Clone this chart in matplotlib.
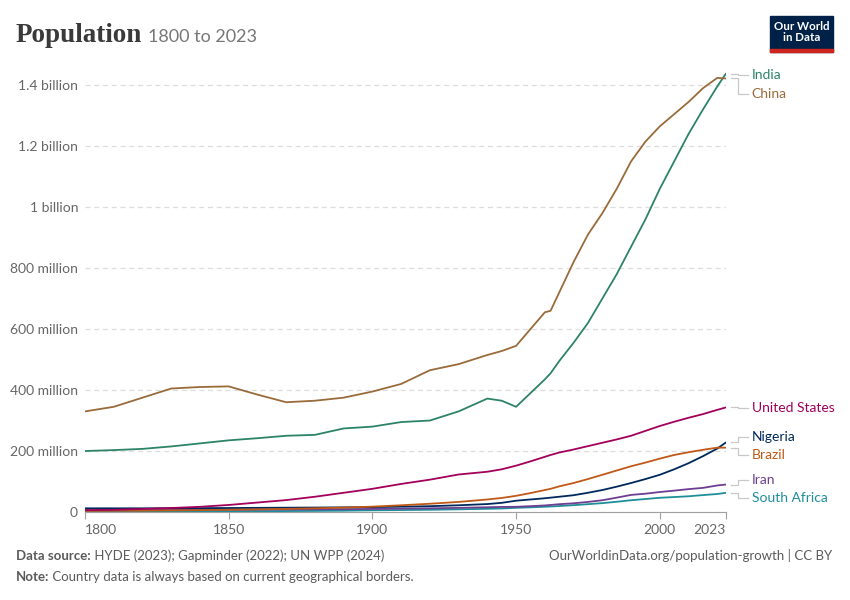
"""
Population 1800 to 2023, selected countries (OWID style line chart).
"""

import matplotlib
matplotlib.use("Agg")
from matplotlib import pyplot as plt
import matplotlib.transforms as mtransforms
from matplotlib.patches import Rectangle

# ------------------------------------
# Data (millions)

years = [1800, 1810, 1820, 1830, 1840, 1850, 1860, 1870, 1880, 1890, 1900, 1910, 1920,
         1930, 1940, 1945, 1950, 1955, 1960, 1962, 1965, 1970, 1975, 1980, 1985, 1990,
         1995, 2000, 2005, 2010, 2015, 2020, 2023]

china = [330, 345, 375, 405, 410, 412, 385, 360, 365, 375, 395, 420, 465,
         485, 515, 528, 545, 600, 655, 660, 720, 820, 910, 980, 1060, 1150,
         1215, 1265, 1305, 1345, 1390, 1424, 1422]

india = [200, 203, 207, 215, 225, 235, 242, 250, 253, 274, 280, 295, 300,
         330, 372, 365, 345, 390, 435, 455, 495, 555, 620, 700, 780, 870,
         960, 1060, 1150, 1240, 1320, 1396, 1438]

usa = [6, 7, 10, 13, 17, 23, 31, 39, 50, 63, 76, 92, 106,
       123, 132, 140, 152, 166, 181, 187, 195, 205, 216, 227, 238, 250,
       266, 282, 296, 309, 321, 335, 343]

brazil = [3.6, 4, 4.5, 5.2, 6, 7.2, 8.5, 10, 12, 14.3, 17.5, 22, 27,
          33, 41, 46, 53, 62, 72, 76, 84, 95, 108, 122, 136, 150,
          162, 175, 187, 196, 204, 211, 211]

nigeria = [12, 12, 12, 12.3, 12.6, 13, 13.5, 14, 14.5, 15.2, 16, 17.5, 19,
           22, 26, 30, 37, 41, 45, 47, 50, 55, 63, 72, 83, 95,
           108, 122, 140, 160, 183, 208, 228]

iran = [6, 6.2, 6.5, 6.8, 7, 7.3, 7.7, 8, 8.5, 9, 10, 11, 12,
        13.5, 15.5, 16.5, 17, 19, 21.5, 23, 25.5, 28.5, 33, 38.5, 47, 56,
        60, 65.5, 70, 75, 79, 87, 90]

south_africa = [1.5, 1.6, 1.7, 1.8, 2, 2.2, 2.6, 3, 3.5, 4.2, 5.5, 6.3, 7.2,
                8.7, 10.4, 11.5, 13.6, 15.3, 17.1, 18, 19.5, 22.4, 25.6, 29, 33.5, 38.5,
                42.5, 46.6, 49, 51.5, 55.4, 59, 63]

series = [
    ("South Africa", south_africa, "#1E8F99"),
    ("Iran", iran, "#6D3E91"),
    ("Nigeria", nigeria, "#00295B"),
    ("Brazil", brazil, "#C05917"),
    ("United States", usa, "#A2005A"),
    ("India", india, "#2C8465"),
    ("China", china, "#9A6B3A"),
]

# label positions on the right (millions), spread so they don't overlap
label_y = {"India": 1433, "China": 1370, "United States": 341, "Nigeria": 246,
           "Brazil": 187, "Iran": 105, "South Africa": 46}

yticks = [0, 200, 400, 600, 800, 1000, 1200, 1400]
ytick_labels = ["0", "200 million", "400 million", "600 million", "800 million",
                "1 billion", "1.2 billion", "1.4 billion"]
xticks = [1800, 1850, 1900, 1950, 2000, 2023]

# -------------------------------
# Figure

plt.rcParams['font.family'] = ['Lato', 'DejaVu Sans']
grey = "#5b5b5b"

fig = plt.figure(figsize=(8.5, 6), dpi=100)
ax = fig.add_axes([0.1, 0.1467, 0.754, 0.7367])
renderer = fig.canvas.get_renderer()

for name, vals, col in series:
    ax.plot(years, [v * 1e6 for v in vals], color=col, lw=1.3, solid_capstyle='round', zorder=3)

ax.set_xlim(1800, 2023)
ax.set_ylim(0, 1.45e9)

ax.set_yticks([v * 1e6 for v in yticks])
ax.set_yticklabels(ytick_labels)
ax.set_xticks(xticks)
ax.set_xticklabels([str(x) for x in xticks])
ax.get_xticklabels()[0].set_horizontalalignment('left')
ax.get_xticklabels()[-1].set_horizontalalignment('right')

ax.grid(axis='y', color='#dddddd', ls=(0, (4, 3)), lw=0.9)
ax.set_axisbelow(True)
for s in ['top', 'right', 'left']:
    ax.spines[s].set_visible(False)
ax.spines['bottom'].set_color('#a0a0a0')
ax.tick_params(axis='y', length=0, labelsize=10, labelcolor='#666666', pad=5)
ax.tick_params(axis='x', length=5, color='#a0a0a0', labelsize=10, labelcolor='#666666', pad=4)

# right-hand labels with elbow connectors
trans = mtransforms.blended_transform_factory(ax.transAxes, ax.transData)
for name, vals, col in series:
    y_end = vals[-1] * 1e6
    y_lab = label_y[name] * 1e6
    ax.plot([1.008, 1.019, 1.019, 1.034], [y_end, y_end, y_lab, y_lab], transform=trans,
            color='#c8c8c8', lw=0.9, clip_on=False)
    ax.text(1.04, y_lab, name, transform=trans, color=col, fontsize=10,
            va='center', ha='left')

# title and subtitle
title = fig.text(16 / 850, 1 - 42 / 600, "Population", family=['Liberation Serif', 'DejaVu Serif'],
                 fontsize=19.5, color='#3a3a3a', va='baseline', ha='left', fontweight='bold')
tb = title.get_window_extent(renderer)
fig.text((tb.x1 + 6) / fig.bbox.width, 1 - 42 / 600, "1800 to 2023", fontsize=13, color='#777777',
         va='baseline', ha='left')

# logo
fig.patches.append(Rectangle((770 / 850, 1 - 52 / 600), 63 / 850, 36 / 600,
                             transform=fig.transFigure, color='#002147', zorder=5))
fig.patches.append(Rectangle((770 / 850, 1 - 52 / 600), 63 / 850, 3 / 600,
                             transform=fig.transFigure, color='#CE261E', zorder=6))
fig.text(801.5 / 850, 1 - 32 / 600, "Our World\nin Data", color='white', fontsize=8.3,
         ha='center', va='center', linespacing=1.0, zorder=7, fontweight='bold')

# footer: bold lead-in followed by regular text
for y_px, lead, rest in [(556, "Data source:", " HYDE (2023); Gapminder (2022); UN WPP (2024)"),
                         (577, "Note:", " Country data is always based on current geographical borders.")]:
    t = fig.text(16 / 850, 1 - y_px / 600, lead, fontsize=9.5, color=grey,
                 va='center', fontweight='bold')
    bb = t.get_window_extent(renderer)
    fig.text(bb.x1 / fig.bbox.width, 1 - y_px / 600, rest, fontsize=9.5, color=grey, va='center')

fig.text(832 / 850, 1 - 556 / 600, "OurWorldinData.org/population-growth | CC BY",
         fontsize=9.5, color=grey, va='center', ha='right')

fig.savefig("out.png", dpi=100)
